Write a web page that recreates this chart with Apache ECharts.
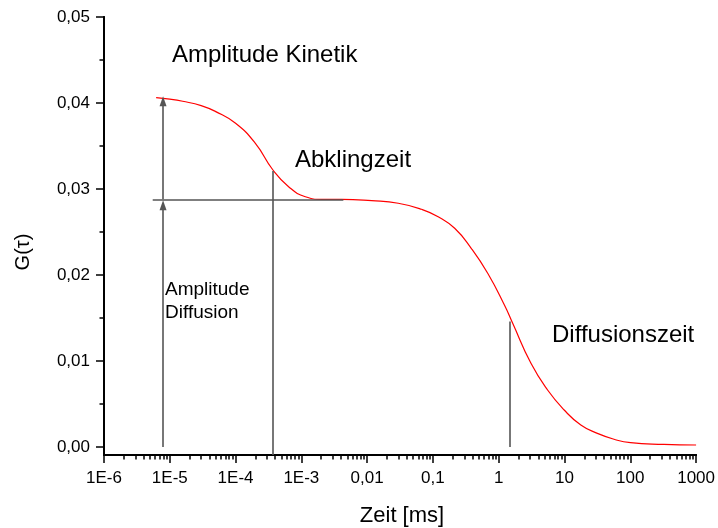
<!DOCTYPE html>
<html>
<head>
<meta charset="utf-8">
<script src="https://cdn.jsdelivr.net/npm/echarts@6/dist/echarts.min.js"></script>
<style>
  html, body { margin: 0; padding: 0; background: #ffffff; }
  #chart { width: 718px; height: 528px; }
</style>
</head>
<body>
<div id="chart"></div>
<script>
// Autocorrelation curve G(tau): lag time in ms, correlation amplitude
const tau = [6.2e-6, 1e-5, 1.57e-5, 3e-5, 5e-5, 1e-4, 2e-4, 3.7e-4, 6.4e-4, 1.15e-3,
             2.06e-3, 4.1e-3, 0.0117, 0.0297, 0.067, 0.12, 0.214, 0.382, 0.68, 1.22,
             1.63, 3.09, 5.53, 9.9, 17.7, 31.6, 56.5, 100.8, 322, 1000];
const g = [0.04062, 0.04045, 0.0402, 0.0397, 0.0390, 0.03764, 0.03531, 0.03221, 0.03027, 0.0291,
           0.0288, 0.0288, 0.02864, 0.02834, 0.02764, 0.02678, 0.02543, 0.0231, 0.0202, 0.01651,
           0.01438, 0.00973, 0.00663, 0.0043, 0.00256, 0.00159, 0.0009, 0.0005, 0.00031, 0.00023];

// Characteristic values marked on the curve
const plateau = 0.0288;        // amplitude of the diffusion part
const amplitudeTotal = 0.0402; // top of the kinetic amplitude arrow
const arrowTau = 7.9e-6;       // where both amplitude arrows stand
const plateauLineFrom = 5.5e-6;
const plateauLineTo = 4.35e-3;
const tauKinetic = 3.7e-4;     // Abklingzeit
const gKinetic = 0.0321;
const tauDiffusion = 1.47;     // Diffusionszeit
const gDiffusion = 0.0146;

// Axis ticks
const xDecades = [1e-6, 1e-5, 1e-4, 1e-3, 0.01, 0.1, 1, 10, 100, 1000];
const xTickLabels = ['1E-6', '1E-5', '1E-4', '1E-3', '0,01', '0,1', '1', '10', '100', '1000'];
const yTickValues = [0, 0.01, 0.02, 0.03, 0.04, 0.05];
const yTickLabels = ['0,00', '0,01', '0,02', '0,03', '0,04', '0,05'];
const yMinorValues = [0.005, 0.015, 0.025, 0.035, 0.045];
const yMin = -0.00093;
const yMax = 0.05;

// minor log ticks at 2..9 of every decade
const xMinorValues = [];
xDecades.slice(0, -1).forEach(d => {
  for (let k = 2; k <= 9; k++) xMinorValues.push(d * k);
});

const FONT = '"Liberation Sans", Arial, sans-serif';
const tickFont = { fontFamily: FONT, fontSize: 17, color: '#000' };
const lineColor = '#555555';
const plotTop = 17, plotBottom = 73, chartHeight = 528;
const plotHeight = chartHeight - plotTop - plotBottom;

const chart = echarts.init(document.getElementById('chart'), null, { renderer: 'canvas' });

function seg(x1, y1, x2, y2, arrow) {
  return [
    { coord: [x1, y1], symbol: 'none' },
    { coord: [x2, y2], symbol: arrow ? 'triangle' : 'none', symbolSize: [7, 10] }
  ];
}

chart.setOption({
  animation: false,
  backgroundColor: '#ffffff',
  grid: { left: 104, right: 19, top: plotTop, bottom: plotBottom, containLabel: false },
  xAxis: [
    {
      type: 'log', logBase: 10, min: 1e-6, max: 1000, interval: 1,
      axisLine: { show: true, onZero: false, lineStyle: { color: '#000', width: 2 } },
      axisTick: { show: true, inside: false, length: 8, lineStyle: { color: '#000', width: 1.5 } },
      axisLabel: {
        ...tickFont, margin: 15,
        formatter: v => {
          const i = xDecades.findIndex(d => Math.abs(Math.log10(d) - Math.log10(v)) < 1e-6);
          return i >= 0 ? xTickLabels[i] : '';
        }
      },
      splitLine: { show: false }, minorTick: { show: false }
    },
    {
      // minor log ticks: a top-anchored axis shifted down onto the bottom edge
      type: 'log', logBase: 10, min: 1e-6, max: 1000,
      position: 'top', offset: -plotHeight,
      axisLine: { show: true, onZero: false, lineStyle: { color: '#000', width: 2 } },
      axisTick: { show: true, inside: true, length: 4.5, customValues: xMinorValues,
                  lineStyle: { color: '#000', width: 1.5 } },
      axisLabel: { show: false }, splitLine: { show: false }
    }
  ],
  yAxis: [
    {
      type: 'value', min: yMin, max: yMax,
      axisLine: { show: true, onZero: false, lineStyle: { color: '#000', width: 2 } },
      axisTick: { show: true, inside: false, length: 8, customValues: yTickValues,
                  lineStyle: { color: '#000', width: 1.5 } },
      axisLabel: {
        ...tickFont, margin: 14, customValues: yTickValues,
        formatter: v => {
          const i = yTickValues.findIndex(t => Math.abs(t - v) < 1e-9);
          return i >= 0 ? yTickLabels[i] : '';
        }
      },
      splitLine: { show: false }
    },
    {
      type: 'value', min: yMin, max: yMax, position: 'left',
      axisLine: { show: true, onZero: false, lineStyle: { color: '#000', width: 2 } },
      axisTick: { show: true, inside: false, length: 4.5, customValues: yMinorValues,
                  lineStyle: { color: '#000', width: 1.5 } },
      axisLabel: { show: false }, splitLine: { show: false }
    }
  ],
  series: [
    {
      type: 'line',
      xAxisIndex: 0, yAxisIndex: 0,
      data: tau.map((t, i) => [t, g[i]]),
      showSymbol: false, symbol: 'none',
      smooth: 0.5,
      lineStyle: { color: '#ff0000', width: 1.2 },
      z: 3,
      markLine: {
        silent: true,
        symbol: ['none', 'none'],
        label: { show: false },
        lineStyle: { color: lineColor, width: 1.6, type: 'solid' },
        emphasis: { disabled: true },
        data: [
          seg(plateauLineFrom, plateau, plateauLineTo, plateau, false),
          seg(arrowTau, plateau, arrowTau, amplitudeTotal, true),
          seg(arrowTau, 0, arrowTau, plateau - 0.0007, true),
          seg(tauKinetic, yMin, tauKinetic, gKinetic, false),
          seg(tauDiffusion, 0, tauDiffusion, gDiffusion, false)
        ]
      }
    }
  ],
  graphic: [
    { type: 'text', x: 172, y: 55, style: { text: 'Amplitude Kinetik', font: '24px ' + FONT, fill: '#000', verticalAlign: 'middle' } },
    { type: 'text', x: 295, y: 160, style: { text: 'Abklingzeit', font: '24px ' + FONT, fill: '#000', verticalAlign: 'middle' } },
    { type: 'text', x: 552, y: 335, style: { text: 'Diffusionszeit', font: '24px ' + FONT, fill: '#000', verticalAlign: 'middle' } },
    { type: 'text', x: 165, y: 289.5, style: { text: 'Amplitude', font: '19px ' + FONT, fill: '#000', verticalAlign: 'middle' } },
    { type: 'text', x: 165, y: 313, style: { text: 'Diffusion', font: '19px ' + FONT, fill: '#000', verticalAlign: 'middle' } },
    { type: 'text', x: 402, y: 516, style: { text: 'Zeit [ms]', font: '22px ' + FONT, fill: '#000', align: 'center', verticalAlign: 'middle' } },
    { type: 'text', x: 23, y: 252, rotation: Math.PI / 2, style: { text: 'G(τ)', font: '20px ' + FONT, fill: '#000', align: 'center', verticalAlign: 'middle' } }
  ]
});
</script>
</body>
</html>
